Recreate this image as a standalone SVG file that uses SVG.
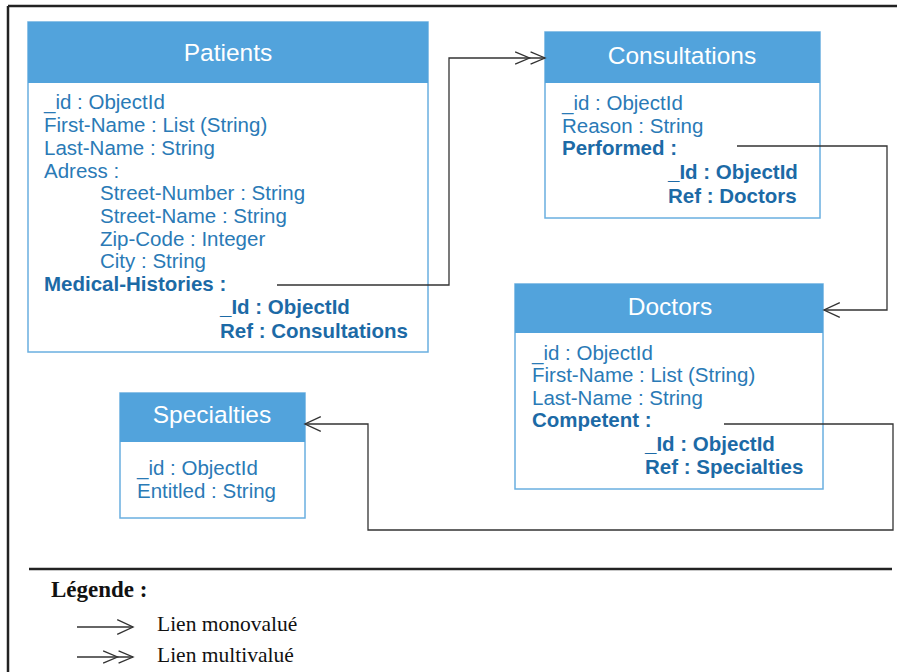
<svg xmlns="http://www.w3.org/2000/svg" width="897" height="672" viewBox="0 0 897 672">
<defs>
<style>
.box{fill:#ffffff;stroke:#6aafe0;stroke-width:1.5}
.hdr{fill:#52a3dc}
.title{font-family:"Liberation Sans",Arial,sans-serif;font-size:24.5px;fill:#ffffff;text-anchor:middle}
.t{font-family:"Liberation Sans",Arial,sans-serif;font-size:20.5px;fill:#2a7ab6}
.b{font-family:"Liberation Sans",Arial,sans-serif;font-size:20.5px;font-weight:bold;fill:#1c6aa6}
.conn{fill:none;stroke:#333333;stroke-width:1.3}
.frame{fill:none;stroke:#222222;stroke-width:2.5}
.leg{font-family:"Liberation Serif","Times New Roman",serif;font-size:21.5px;fill:#111111}
.legb{font-family:"Liberation Serif","Times New Roman",serif;font-size:23px;font-weight:bold;fill:#111111}
</style>
<marker id="one" markerUnits="userSpaceOnUse" markerWidth="20" markerHeight="20" viewBox="-17 -9 19 18" refX="0" refY="0" orient="auto">
<path d="M-15,-7 L0,0 L-15,7" fill="none" stroke="#333333" stroke-width="1.3"/>
</marker>
<marker id="many" markerUnits="userSpaceOnUse" markerWidth="34" markerHeight="20" viewBox="-31 -9 33 18" refX="0" refY="0" orient="auto">
<path d="M-29,-6 L-15,0 L-29,6 M-14,-6 L0,0 L-14,6" fill="none" stroke="#333333" stroke-width="1.3"/>
</marker>
</defs>

<g id="frame">
<path class="frame" d="M8,6 H897 M8,6 V672"/>
<line x1="29" y1="569" x2="892" y2="569" stroke="#222222" stroke-width="2.5"/>
</g>

<g id="patients">
<rect class="box" x="28" y="22" width="400" height="330"/>
<rect class="hdr" x="28" y="22" width="400" height="61"/>
<text class="title" x="228" y="61">Patients</text>
<text class="t" x="44" y="109">_id : ObjectId</text>
<text class="t" x="44" y="132">First-Name : List (String)</text>
<text class="t" x="44" y="155">Last-Name : String</text>
<text class="t" x="44" y="178">Adress :</text>
<text class="t" x="100" y="200">Street-Number : String</text>
<text class="t" x="100" y="223">Street-Name : String</text>
<text class="t" x="100" y="246">Zip-Code : Integer</text>
<text class="t" x="100" y="268">City : String</text>
<text class="b" x="44" y="291">Medical-Histories :</text>
<text class="b" x="220" y="314">_Id : ObjectId</text>
<text class="b" x="220" y="338">Ref : Consultations</text>
</g>

<g id="consultations">
<rect class="box" x="545" y="32" width="275" height="186"/>
<rect class="hdr" x="545" y="32" width="275" height="51"/>
<text class="title" x="682" y="64">Consultations</text>
<text class="t" x="562" y="110">_id : ObjectId</text>
<text class="t" x="562" y="133">Reason : String</text>
<text class="b" x="562" y="155">Performed :</text>
<text class="b" x="668" y="179">_Id : ObjectId</text>
<text class="b" x="668" y="203">Ref : Doctors</text>
</g>

<g id="doctors">
<rect class="box" x="515" y="284" width="308" height="205"/>
<rect class="hdr" x="515" y="284" width="308" height="49"/>
<text class="title" x="670" y="315">Doctors</text>
<text class="t" x="532" y="360">_id : ObjectId</text>
<text class="t" x="532" y="382">First-Name : List (String)</text>
<text class="t" x="532" y="405">Last-Name : String</text>
<text class="b" x="532" y="427">Competent :</text>
<text class="b" x="645" y="451">_Id : ObjectId</text>
<text class="b" x="645" y="474">Ref : Specialties</text>
</g>

<g id="specialties">
<rect class="box" x="120" y="393" width="185" height="125"/>
<rect class="hdr" x="120" y="393" width="185" height="49"/>
<text class="title" x="212" y="423">Specialties</text>
<text class="t" x="137" y="475">_id : ObjectId</text>
<text class="t" x="137" y="498">Entitled : String</text>
</g>

<g id="connectors">
<path class="conn" d="M277,285 H449 V58 H545" marker-end="url(#many)"/>
<path class="conn" d="M737,146 H887 V310 H824" marker-end="url(#one)"/>
<path class="conn" d="M724,424 H893 V530 H368 V424 H305" marker-end="url(#one)"/>
</g>

<g id="legend">
<text class="legb" x="51" y="597">Légende :</text>
<line class="conn" x1="77" y1="627" x2="133" y2="627" marker-end="url(#one)"/>
<text class="leg" x="157" y="631">Lien monovalué</text>
<line class="conn" x1="77" y1="657" x2="133" y2="657" marker-end="url(#many)"/>
<text class="leg" x="157" y="662">Lien multivalué</text>
</g>
</svg>
